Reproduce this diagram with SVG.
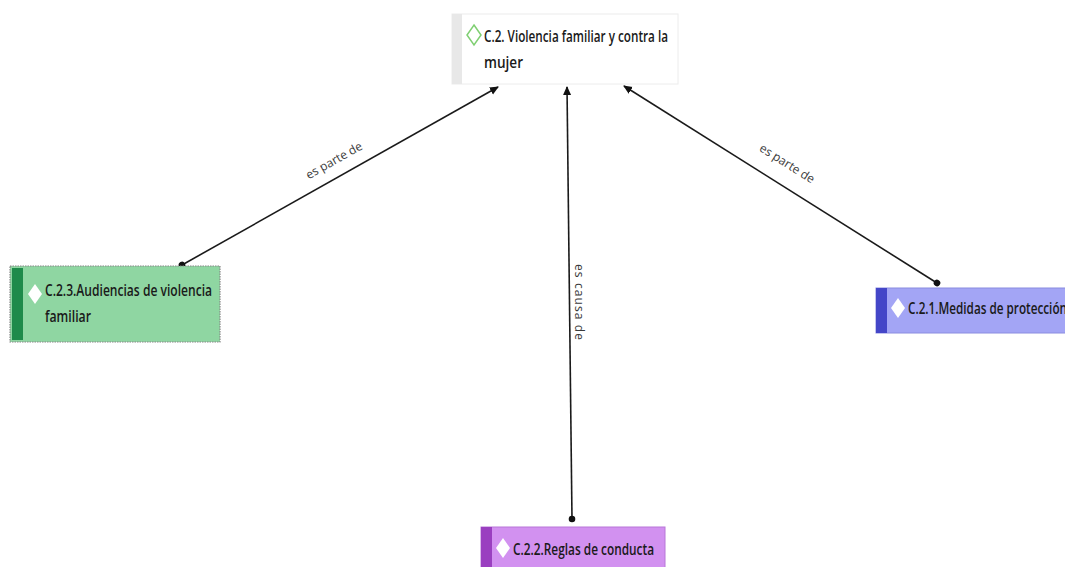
<svg xmlns="http://www.w3.org/2000/svg" width="1065" height="567" viewBox="0 0 1065 567">
<defs>
<style>
.lbl{font-family:"Open Sans","Liberation Sans",sans-serif;font-size:17px;font-weight:600;fill:#1a1a1a}
.ed{font-family:"Open Sans","Liberation Sans",sans-serif;font-size:12px;fill:#3a3a3a}
.ln{stroke:#1a1a1a;stroke-width:1.6;fill:none}
</style>
<marker id="arr" markerWidth="10" markerHeight="10" refX="8" refY="4" orient="auto" markerUnits="userSpaceOnUse">
<path d="M0,0 L9,4 L0,8 z" fill="#111"/>
</marker>
<marker id="dot" markerWidth="8" markerHeight="8" refX="4" refY="4" orient="auto" markerUnits="userSpaceOnUse">
<circle cx="4" cy="4" r="3.3" fill="#111"/>
</marker>
</defs>
<rect width="1065" height="567" fill="#fff"/>
<g id="connectors">
<line class="ln" x1="182" y1="265" x2="498" y2="87" marker-start="url(#dot)" marker-end="url(#arr)"/>
<text class="ed" transform="translate(336,164) rotate(-29.4)" text-anchor="middle">es parte de</text>
<line class="ln" x1="572" y1="519" x2="567" y2="87" marker-start="url(#dot)" marker-end="url(#arr)"/>
<text class="ed" transform="translate(575,302) rotate(90)" text-anchor="middle" textLength="76" lengthAdjust="spacing">es causa de</text>
<line class="ln" x1="937" y1="283" x2="624" y2="86" marker-start="url(#dot)" marker-end="url(#arr)"/>
<text class="ed" transform="translate(785,167) rotate(32.2)" text-anchor="middle">es parte de</text>
</g>
<g id="node-c2">
<rect x="452" y="14" width="226" height="70" fill="#fff" stroke="#ececec" stroke-width="1"/>
<rect x="452" y="14" width="10" height="70" fill="#e8e8e8"/>
<path d="M474,25 L481,35 L474,45 L467,35 z" fill="#fff" stroke="#7fcf72" stroke-width="1.5"/>
<text class="lbl" x="484" y="42" textLength="184" lengthAdjust="spacingAndGlyphs">C.2. Violencia familiar y contra la</text>
<text class="lbl" x="484" y="68" textLength="39" lengthAdjust="spacingAndGlyphs">mujer</text>
</g>
<g id="node-c23">
<rect x="10" y="266" width="210" height="76" fill="#8fd6a2" stroke="#888" stroke-width="1.2" stroke-dasharray="1.5,1"/>
<rect x="12" y="268" width="11" height="72" fill="#1e8a4a"/>
<path d="M35,284 L42,294 L35,304 L28,294 z" fill="#fff"/>
<text class="lbl" x="45" y="296" textLength="167" lengthAdjust="spacingAndGlyphs">C.2.3.Audiencias de violencia</text>
<text class="lbl" x="45" y="322" textLength="46" lengthAdjust="spacingAndGlyphs">familiar</text>
</g>
<g id="node-c21">
<rect x="876" y="288" width="195" height="45" fill="#a3a5f5" stroke="#8a8ce0" stroke-width="1"/>
<rect x="876" y="288" width="11" height="45" fill="#4446c8"/>
<path d="M898,298 L905,308 L898,318 L891,308 z" fill="#fff"/>
<text class="lbl" x="908" y="314" textLength="159" lengthAdjust="spacingAndGlyphs">C.2.1.Medidas de protección</text>
</g>
<g id="node-c22">
<rect x="481" y="527" width="184" height="45" fill="#d291f0" stroke="#b877d8" stroke-width="1"/>
<rect x="481" y="527" width="11" height="45" fill="#9a3fc0"/>
<path d="M503,538 L510,548 L503,558 L496,548 z" fill="#fff"/>
<text class="lbl" x="513" y="555" textLength="141" lengthAdjust="spacingAndGlyphs">C.2.2.Reglas de conducta</text>
</g>
</svg>
